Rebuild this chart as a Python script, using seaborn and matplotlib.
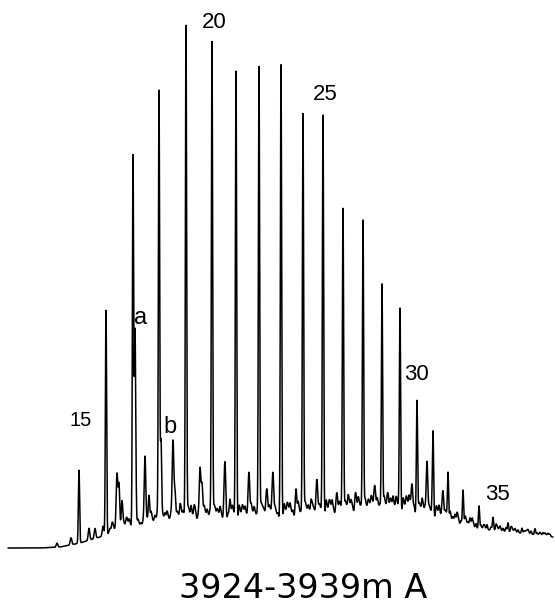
import numpy as np
import pandas as pd
import matplotlib
matplotlib.use("Agg")
import matplotlib.pyplot as plt
import seaborn as sns

# retention position (chart units) and heights above the hump
nalkane_labels = ["C15", "C16", "C17", "C18", "C19", "C20", "C21", "C22", "C23", "C24",
                  "C25", "C26", "C27", "C28", "C29", "C30", "C31", "C32", "C33", "C34",
                  "C35", "C36", "C37", "C38"]
nalkane_rt = [79, 106, 133, 159, 186, 212, 236, 259, 281, 303,
              323, 343, 363, 382, 400, 417, 433, 448, 463, 479,
              493, 508, 522, 535]
nalkane_height = [73, 225, 372, 430, 496, 479, 449, 453, 454, 404,
                  399, 304, 293, 228, 203, 114, 85, 49, 36, 23,
                  13, 9, 5, 6]

# isoprenoids: a = pristane, b = phytane
iso_rt = [135, 161]
iso_height = [198, 85]

# other resolved minor peaks
minor_rt = [57, 71, 89, 95, 103, 117, 119, 122, 145, 149, 173, 175, 200, 202,
            225, 230, 249, 267, 273, 296, 317, 337, 356, 375, 388, 412, 427,
            443, 455, 470, 500, 515, 528, 545]
minor_height = [4, 7, 12, 10, 10, 55, 40, 30, 72, 32, 81, 31, 52, 36,
                56, 21, 46, 27, 44, 29, 35, 20, 17, 23, 17, 28, 55,
                28, 10, 10, 5, 4, 4, 3]

# unresolved fine structure on top of the hump
noise_rt = [110, 113, 116, 124, 127, 130, 138, 141, 152, 155,
            158, 165, 168, 171, 178, 181, 184, 189, 192, 195,
            205, 208, 215, 218, 221, 233, 240, 243, 246, 252,
            255, 262, 264, 270, 276, 285, 288, 291, 299, 306,
            309, 312, 314, 320, 327, 330, 333, 340, 346, 349,
            352, 359, 366, 369, 372, 378, 385, 391, 394, 397,
            404, 407, 410, 420, 423, 430, 437, 440, 446, 451,
            458, 466, 473, 484, 497, 512, 526, 540, 548]
noise_height = [6, 9, 5, 8, 12, 7, 10, 6, 9, 11,
                7, 12, 8, 10, 9, 14, 7, 11, 8, 13,
                10, 7, 12, 9, 8, 11, 9, 13, 7, 10,
                8, 12, 9, 11, 7, 10, 13, 8, 9, 11,
                8, 12, 7, 10, 9, 13, 8, 11, 10, 14,
                9, 12, 8, 11, 13, 9, 10, 12, 8, 11,
                9, 13, 10, 9, 11, 8, 10, 7, 9, 6,
                8, 7, 6, 5, 4, 4, 3, 3, 3]

noise2_rt = [112, 119, 126, 129, 136, 143, 147, 151, 157, 163,
             167, 177, 180, 183, 188, 191, 194, 198, 204, 207,
             210, 214, 217, 220, 224, 228, 232, 239, 242, 245,
             248, 251, 254, 257, 261, 266, 269, 272, 275, 278,
             284, 287, 290, 293, 298, 301, 305, 308, 311, 316,
             319, 322, 326, 329, 332, 336, 339, 342, 345, 348,
             351, 355, 358, 361, 365, 368, 371, 374, 377, 380,
             384, 387, 390, 393, 396, 399, 403, 406, 409, 414,
             419, 422, 425, 429, 432, 436, 439, 442, 445, 450,
             453, 457, 461, 465, 468, 472, 476, 481, 487, 491,
             496, 503, 506, 511, 518, 524, 531, 537, 543, 550]
noise2_height = [5, 7, 4, 6, 8, 5, 7, 9, 6, 8,
                 7, 5, 9, 6, 8, 10, 7, 5, 8, 6,
                 9, 7, 5, 8, 10, 6, 7, 9, 5, 8,
                 6, 9, 7, 5, 8, 10, 6, 9, 7, 5,
                 8, 6, 9, 7, 10, 5, 8, 6, 9, 7,
                 5, 8, 10, 6, 9, 7, 5, 8, 6, 9,
                 7, 10, 8, 6, 9, 5, 7, 10, 8, 6,
                 9, 7, 5, 10, 8, 6, 9, 7, 10, 8,
                 6, 9, 7, 5, 8, 6, 9, 7, 5, 8,
                 6, 7, 5, 6, 4, 6, 5, 4, 5, 3,
                 4, 3, 4, 3, 3, 2, 3, 2, 3, 2]

# unresolved complex mixture hump (baseline)
hump_rt = [5, 40, 60, 80, 100, 120, 140, 170, 200, 250, 300, 350, 380,
           410, 430, 450, 470, 500, 530, 553]
hump_level = [59, 59, 60, 64, 70, 75, 78, 83, 86, 87, 89, 93, 95,
              94, 90, 84, 79, 76, 73, 70]

peak_labels = ["15", "20", "25", "30", "35"]
peak_label_xy = [(81, 186), (214, 584), (325, 512), (416, 232), (497, 112)]
iso_label_xy = [(141, 289), (170, 180)]

# build the trace
t = np.arange(8, 553, 0.1)
signal = np.interp(t, hump_rt, hump_level)


def add_peaks(sig, rts, heights, width):
    for rt, h in zip(rts, heights):
        sig = sig + h * np.exp(-0.5 * ((t - rt) / width) ** 2)
    return sig


signal = add_peaks(signal, nalkane_rt, nalkane_height, 0.6)
signal = add_peaks(signal, iso_rt, iso_height, 0.7)
signal = add_peaks(signal, minor_rt, minor_height, 0.8)
signal = add_peaks(signal, noise_rt, noise_height, 1.0)
signal = add_peaks(signal, noise2_rt, noise2_height, 0.6)

trace = pd.DataFrame({"time": t, "response": signal})

sns.set_style("white")
fig = plt.figure(figsize=(5.55, 6.07), dpi=100)
ax = fig.add_axes([0, 0, 1, 1])
sns.lineplot(data=trace, x="time", y="response", ax=ax, color="black",
             linewidth=1.1, estimator=None, sort=False)
ax.set_xlim(0, 555)
ax.set_ylim(0, 607)
ax.axis("off")

for lab, (x, y) in zip(peak_labels, peak_label_xy):
    ax.text(x, y, lab, ha="center", va="center", fontsize=16 if lab != "15" else 14.5,
            family="Liberation Sans", color="black")
for lab, (x, y) in zip(["a", "b"], iso_label_xy):
    ax.text(x, y, lab, ha="center", va="center", fontsize=17,
            family="Liberation Sans", color="black")

ax.text(303, 19, "3924-3939m A", ha="center", va="center", fontsize=24,
        family="DejaVu Sans", color="black")

fig.savefig("out.png", dpi=100)
